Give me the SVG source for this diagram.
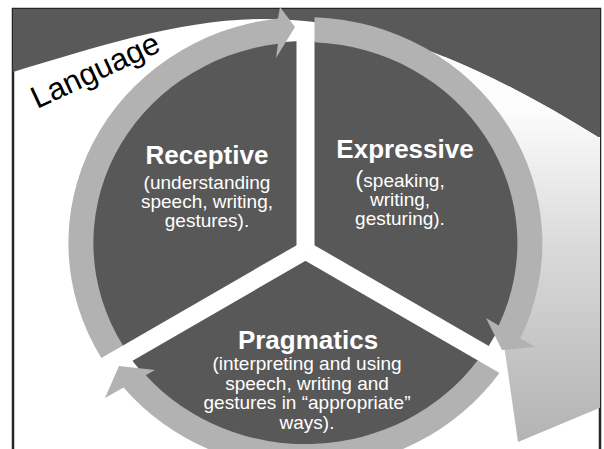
<svg xmlns="http://www.w3.org/2000/svg" width="604" height="449" viewBox="0 0 604 449">
  <defs>
    <style>
      .slide { fill: #ffffff; stroke: #262626; stroke-width: 2.5; }
      .shade { fill: #595959; }
      .sector { fill: #585858; }
      .ring { fill: #b2b2b2; }
      .head { font-family: "Liberation Sans", Arial, sans-serif; font-weight: bold; font-size: 26px; fill: #ffffff; text-anchor: middle; }
      .body { font-family: "Liberation Sans", Arial, sans-serif; font-size: 19px; fill: #ffffff; text-anchor: middle; }
      .title { font-family: "Liberation Sans", Arial, sans-serif; font-size: 31px; fill: #000000; }
    </style>
    <linearGradient id="sweep" gradientUnits="userSpaceOnUse" x1="0" y1="110" x2="0" y2="442">
      <stop offset="0" stop-color="#fcfcfc"/>
      <stop offset="0.42" stop-color="#d9d9d9"/>
      <stop offset="1" stop-color="#b3b3b3"/>
    </linearGradient>
    <!-- three white separators between the pie segments -->
    <mask id="cuts" maskUnits="userSpaceOnUse" x="0" y="0" width="604" height="449">
      <rect x="0" y="0" width="604" height="449" fill="#ffffff"/>
      <g stroke="#000000" stroke-width="18">
        <line x1="305.5" y1="250.5" x2="305.5" y2="-60"/>
        <line x1="305.5" y1="250.5" x2="-41" y2="450.5"/>
        <line x1="305.5" y1="250.5" x2="652" y2="450.5"/>
      </g>
    </mask>
    <clipPath id="slideClip">
      <rect x="13" y="9" width="587" height="445"/>
    </clipPath>
  </defs>

  <!-- slide frame -->
  <rect class="slide" x="13" y="9" width="587" height="460"/>

  <g id="language" clip-path="url(#slideClip)">
    <!-- dark area above the large curved arrow -->
    <path class="shade" d="M13,9 H600 V137 L598,137 C548,106 495,77 445,57 C385,33 325,19 265,19 C181,19 97,47 13,72 Z"/>
    <!-- head of the large curved arrow, lower right -->
    <path fill="url(#sweep)" d="M445,57 C495,77 548,106 598,137 L602,137 L602,407 L518,442 L504,345 L505,330 A224.5 213.5 0 0 0 440,75 Z"/>
    <text class="title" transform="translate(37,109) rotate(-25)">Language</text>
  </g>

  <!-- pie segments -->
  <g id="segments">
    <ellipse class="sector" cx="305.5" cy="243" rx="213" ry="202" mask="url(#cuts)"/>
  </g>

  <!-- curved arrows around the pie -->
  <g id="connectors">
    <path class="ring" d="M101.4,358 A237 226 0 0 1 278,18.5 L280,7 L295,27 L276,58 L278,43.7 A212 201 0 0 0 123,345.5 Z"/>
    <path class="ring" d="M314.5,17.2 A237 226 0 0 1 520.3,338.3 L535,347 L502,350 L486,318 L498.7,325.5 A212 201 0 0 0 314.5,42.2 Z"/>
    <path class="ring" d="M499.5,372.9 A237 226 0 0 1 123.5,387.6 L105,398 L119,366 L155,370 L145.75,375.2 A212 201 0 0 0 477.7,360.3 Z"/>
  </g>

  <g id="receptive">
    <text class="head" x="207" y="164">Receptive</text>
    <text class="body" x="207" y="189">(understanding</text>
    <text class="body" x="207" y="208">speech, writing,</text>
    <text class="body" x="207" y="227">gestures).</text>
  </g>

  <g id="expressive">
    <text class="head" x="405" y="158">Expressive</text>
    <text class="body" x="400" y="187"><tspan font-size="24px">(</tspan>speaking,</text>
    <text class="body" x="400" y="206">writing,</text>
    <text class="body" x="400" y="225">gesturing).</text>
  </g>

  <g id="pragmatics">
    <text class="head" x="308" y="349">Pragmatics</text>
    <text class="body" x="307" y="370">(interpreting and using</text>
    <text class="body" x="307" y="389.5">speech, writing and</text>
    <text class="body" x="307" y="409">gestures in “appropriate”</text>
    <text class="body" x="307" y="428.5">ways).</text>
  </g>
</svg>
